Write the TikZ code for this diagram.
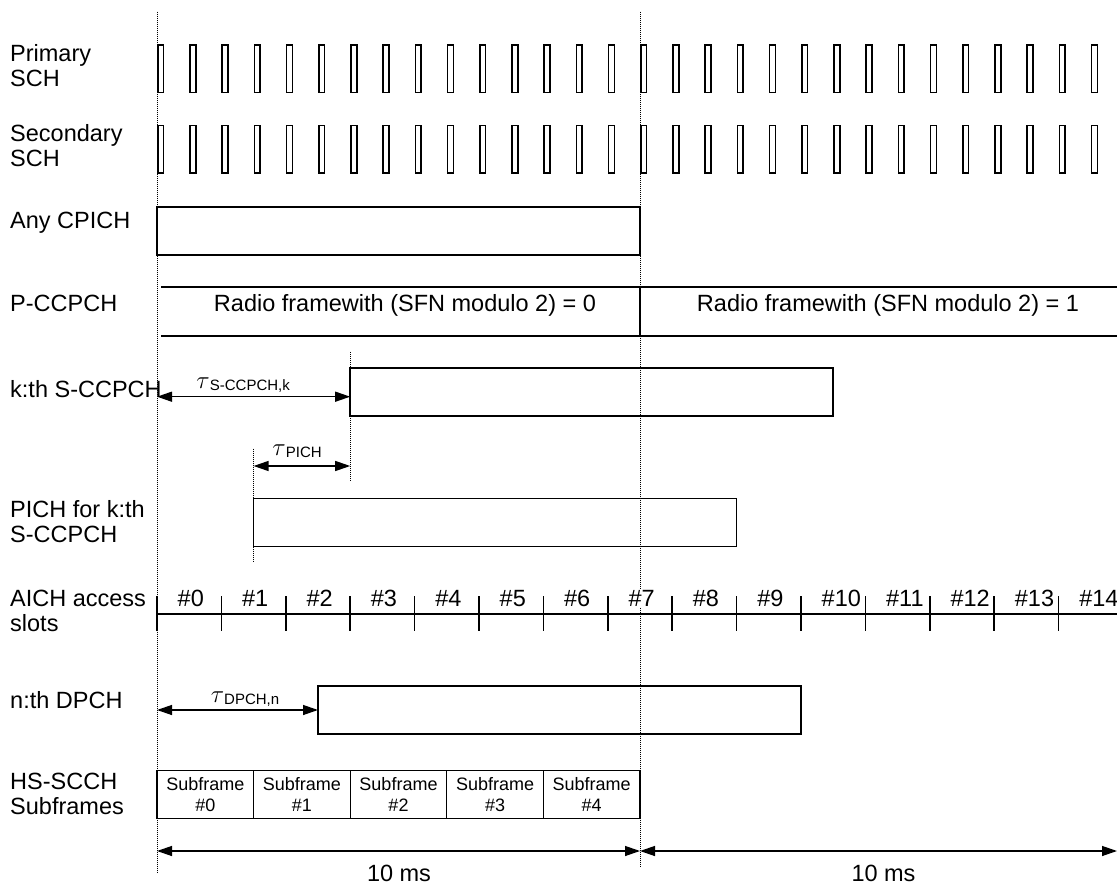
\documentclass[tikz,border=0pt]{standalone}
\usepackage{fontspec}
\setmainfont{Liberation Sans}
\usetikzlibrary{arrows.meta,positioning}
\newcommand{\framelen}{483pt}
\newcommand{\slotlen}{32.2}
\newcommand{\aslotlen}{64.4}
\newcommand{\sublen}{96.6pt}
\newcommand{\taulab}[1]{{\fontsize{24}{24}\selectfont$\tau$}\raisebox{-2pt}{\fontsize{15}{15}\selectfont #1}}
\tikzset{
    chlabel/.style = { anchor=base west, align=left, inner sep=0pt,
        font=\fontsize{23.5}{25}\selectfont
    },
    chbox/.style = { draw, line width=1.5pt, rectangle, inner sep=0pt,
        outer sep=0pt, anchor=north west,
        minimum width=\framelen, minimum height=48pt
    },
    subfr/.style = { draw, line width=1.3pt, rectangle, align=center,
        inner sep=0pt, outer sep=0pt,
        minimum width=\sublen, minimum height=47.6pt,
        font=\fontsize{18}{21}\selectfont
    },
    pulse/.style = { draw, line width=1.6pt },
    chline/.style = { line width=1.5pt },
    guide/.style = { line width=0.8pt, dash pattern=on 0.8pt off 1.2pt },
    dimarrow/.style = { line width=1.3pt,
        {Triangle[length=15pt,width=10pt]}-{Triangle[length=15pt,width=10pt]}
    },
    taunote/.style = { anchor=base, inner sep=0pt, yshift=8pt },
    slotnum/.style = { anchor=base west, fill=white, inner sep=1pt,
        font=\fontsize{23.5}{25}\selectfont
    },
    bigtext/.style = { anchor=base, inner sep=0pt,
        font=\fontsize{23.5}{25}\selectfont
    }
}

\begin{document}
\begin{tikzpicture}[x=1pt, y=-1pt]
        \useasboundingbox (0,0) rectangle (1117,885);
        \coordinate (f0) at (157,0);
        \coordinate (f1) at (640,0);

        % frame borders...
        \draw[guide] (157,11.7) -- (157,872);
        \draw[guide] (640,11.7) -- (640,866);

        % channel names (base = last line)...
        \node[chlabel] (lpsch) at (10,87) {Primary\\SCH};
        \node[chlabel] (lssch) at (10,167) {Secondary\\SCH};
        \node[chlabel] (lcpich) at (10,229) {Any CPICH};
        \node[chlabel] (lpccpch) at (10,312) {P-CCPCH};
        \node[chlabel] (lsccpch) at (10,397) {k:th S-CCPCH};
        \node[chlabel] (lpich) at (10,542) {PICH for k:th\\S-CCPCH};
        \node[chlabel] (laich) at (10,631) {AICH access\\slots};
        \node[chlabel] (ldpch) at (10,708) {n:th DPCH};
        \node[chlabel] (lhs) at (10,814) {HS-SCCH\\Subframes};

        % SCH slots...
        \foreach \i in {0,...,29} {
            \draw[pulse] ({157.8+\i*\slotlen},45) rectangle ++(5.8,47.5);
            \draw[pulse] ({157.8+\i*\slotlen},125.5) rectangle ++(5.8,47.5);
        }

        % CPICH, P-CCPCH...
        \node[chbox] (cpich) at (157,207) {};
        \draw[chline] (161,287) -- (1117,287);
        \draw[chline] (161,336) -- (1117,336);
        \draw[chline] (640,287) -- (640,336);
        \node[bigtext] (rf0) at (405,312) {Radio framewith (SFN modulo 2) = 0};
        \node[bigtext] (rf1) at (888,312) {Radio framewith (SFN modulo 2) = 1};

        % S-CCPCH, PICH...
        \node[chbox] (sccpch) at (350.2,368) {};
        \node[chbox] (pich) at (253.6,498.5) {};
        \draw[guide] ([yshift=16pt]sccpch.north west) -- ([yshift=-65pt]sccpch.south west);
        \draw[guide] ([yshift=50pt]pich.north west) -- ([yshift=-15pt]pich.south west);
        \coordinate (sa) at (157,396.7);
        \draw[dimarrow] (sa) -- node[taunote, pos=0.446] (tsccpch) {\taulab{S-CCPCH,k}} (sa -| sccpch.west);
        \coordinate (pa) at (253.6,466);
        \draw[dimarrow] (pa) -- node[taunote, pos=0.45, yshift=3pt] (tpich) {\taulab{PICH}} (pa -| sccpch.west);

        % AICH access slots...
        \draw[chline] (157,614) -- (1117,614);
        \foreach \k in {0,...,14} {
            \draw[chline] ({157+\k*\aslotlen},596) -- ++(0,35);
            \node[slotnum] (as\k) at ({157+\k*\aslotlen+19.5},606) {\#\k};
        }

        % DPCH...
        \node[chbox] (dpch) at (318,686) {};
        \draw[dimarrow] (dpch.west -| f0) -- node[taunote, pos=0.547] (tdpch) {\taulab{DPCH,n}} (dpch.west);

        % HS-SCCH subframes...
        \node[subfr, anchor=north west] (sf0) at (157,770.7) {Subframe\\\#0};
        \foreach \k [remember=\k as \lastk (initially 0)] in {1,...,4}
            \node[subfr, right=0pt of sf\lastk] (sf\k) {Subframe\\\#\k};

        % 10 ms...
        \coordinate (m0) at (157,851);
        \coordinate (m1) at (640,851);
        \coordinate (m2) at (1117,851);
        \draw[dimarrow] (m0) -- (m1);
        \draw[dimarrow] (m1) -- (m2);
        \node[bigtext] (ms0) at (399,881) {10 ms};
        \node[bigtext] (ms1) at (883.5,881) {10 ms};
\end{tikzpicture}
\end{document}
